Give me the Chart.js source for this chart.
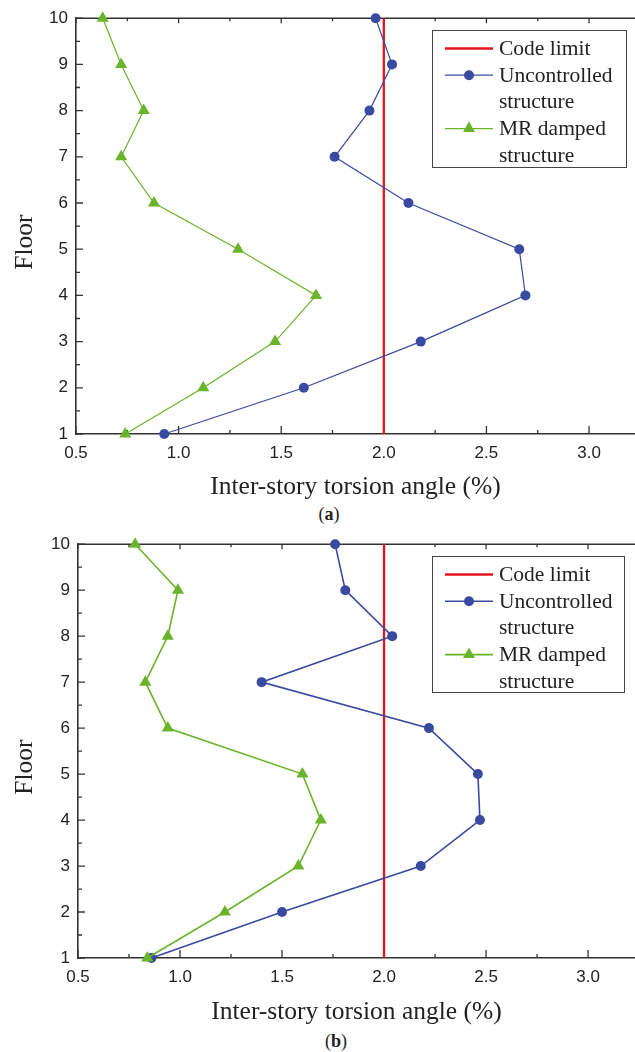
<!DOCTYPE html>
<html>
<head>
<meta charset="utf-8">
<script src="https://cdn.jsdelivr.net/npm/chart.js@4.4.1/dist/chart.umd.min.js"></script>
<style>
  html, body { margin: 0; padding: 0; background: #fff; }
  body { width: 635px; height: 1052px; position: relative; overflow: hidden; }
  .panel { position: absolute; left: 0; }
  .caption {
    position: absolute; width: 40px; text-align: center;
    font-family: "Liberation Serif", "Times New Roman", serif;
    font-size: 18px; color: #222;
  }
</style>
</head>
<body>
<div class="panel" style="top:0"><canvas id="chartA" width="635" height="503"></canvas></div>
<div class="caption" style="left:309px;top:504px">(<b>a</b>)</div>
<div class="panel" style="top:526px"><canvas id="chartB" width="635" height="502"></canvas></div>
<div class="caption" style="left:316px;top:1031px">(<b>b</b>)</div>

<script>
// Inter-story torsion angle (%) per floor
const floors = [1, 2, 3, 4, 5, 6, 7, 8, 9, 10];
const uncontrolledA = [0.93, 1.61, 2.18, 2.69, 2.66, 2.12, 1.76, 1.93, 2.04, 1.96];
const dampedA       = [0.74, 1.12, 1.47, 1.67, 1.29, 0.88, 0.72, 0.83, 0.72, 0.63];
const uncontrolledB = [0.86, 1.50, 2.18, 2.47, 2.46, 2.22, 1.40, 2.04, 1.81, 1.76];
const dampedB       = [0.84, 1.22, 1.58, 1.69, 1.60, 0.94, 0.83, 0.94, 0.99, 0.78];
const codeLimit = 2.0;
const xTickValues = [0.5, 1.0, 1.5, 2.0, 2.5, 3.0];

const SANS = '"Liberation Sans", Arial, sans-serif';
const SERIF = '"Liberation Serif", "Times New Roman", serif';
const AXIS = '#333';
const TEXT = '#222';
const RED = '#e5141c';
const BLUE = '#3a4aa0';
const GREEN = '#6ab42c';

function marker(ctx, style, r, x, y, color) {
    ctx.fillStyle = color;
    ctx.beginPath();
    if (style === 'triangle') {
        ctx.moveTo(x, y - r);
        ctx.lineTo(x + Math.sin(2 * Math.PI / 3) * r, y - Math.cos(2 * Math.PI / 3) * r);
        ctx.lineTo(x + Math.sin(4 * Math.PI / 3) * r, y - Math.cos(4 * Math.PI / 3) * r);
        ctx.closePath();
    } else {
        ctx.arc(x, y, r, 0, Math.PI * 2);
    }
    ctx.fill();
}

// closed top edge plus inward tick marks (Origin style)
const frameTicks = {
    id: 'frameTicks',
    beforeDatasetsDraw(chart) {
        const { ctx, chartArea: a, scales: { x, y } } = chart;
        ctx.save();
        ctx.strokeStyle = AXIS;
        ctx.lineWidth = 1.6;
        ctx.beginPath();
        ctx.moveTo(a.left, a.top);
        ctx.lineTo(a.right, a.top);
        ctx.stroke();

        ctx.lineWidth = 1.3;
        ctx.beginPath();
        xTickValues.forEach(v => {
            [[v, 8, 5], [v + 0.25, 4, 3]].forEach(([val, lenB, lenT]) => {
                const px = x.getPixelForValue(val);
                if (px > a.right) return;
                ctx.moveTo(px, a.bottom); ctx.lineTo(px, a.bottom - lenB);
                ctx.moveTo(px, a.top); ctx.lineTo(px, a.top + lenT);
            });
        });
        floors.forEach(f => {
            const py = y.getPixelForValue(f);
            ctx.moveTo(a.left, py); ctx.lineTo(a.left + 7, py);
            if (f < 10) {
                const pm = y.getPixelForValue(f + 0.5);
                ctx.moveTo(a.left, pm); ctx.lineTo(a.left + 4, pm);
            }
        });
        ctx.stroke();

        // rotated y title, sitting a little below the middle of the axis
        const t = chart.options.plugins.frameTicks;
        ctx.font = '25.5px ' + SERIF;
        ctx.fillStyle = TEXT;
        ctx.textAlign = 'center';
        ctx.textBaseline = 'alphabetic';
        ctx.translate(t.titleX, (y.top + y.bottom) / 2 + t.titleShift);
        ctx.rotate(-Math.PI / 2);
        ctx.fillText(t.yTitle, 0, 0);
        ctx.restore();
    }
};

// boxed legend with wrapped labels
const boxLegend = {
    id: 'boxLegend',
    afterDraw(chart, args, opts) {
        const { ctx } = chart;
        const b = opts.box;
        ctx.save();
        ctx.strokeStyle = '#444';
        ctx.lineWidth = 1;
        ctx.strokeRect(b.left + 0.5, b.top + 0.5, b.width, b.height);
        ctx.font = '21.5px ' + SERIF;
        ctx.textBaseline = 'alphabetic';
        let base = b.top + 25;
        chart.data.datasets.forEach(ds => {
            const cy = base - 6.5;
            ctx.strokeStyle = ds.borderColor;
            ctx.lineWidth = ds.borderWidth;
            ctx.beginPath();
            ctx.moveTo(b.left + 13, cy);
            ctx.lineTo(b.left + 61, cy);
            ctx.stroke();
            if (ds.pointRadius > 0) {
                marker(ctx, ds.pointStyle, ds.pointRadius, b.left + 37, cy, ds.pointBackgroundColor);
            }
            ctx.fillStyle = TEXT;
            ds.label.split('\n').forEach(line => {
                ctx.fillText(line, b.left + 67, base);
                base += 26.7;
            });
        });
        ctx.restore();
    }
};

function pairs(values) {
    return floors.map((f, i) => ({ x: values[i], y: f }));
}

function makeChart(id, uncontrolled, damped, o) {
    new Chart(document.getElementById(id), {
        type: 'scatter',
        data: {
            datasets: [
                {
                    label: 'Code limit',
                    data: [{ x: codeLimit, y: 1 }, { x: codeLimit, y: 10 }],
                    showLine: true, borderColor: RED, borderWidth: 2.3,
                    pointRadius: 0, order: 3, clip: false
                },
                {
                    label: 'Uncontrolled\nstructure',
                    data: pairs(uncontrolled),
                    showLine: true, borderColor: BLUE, borderWidth: o.lineWidth,
                    pointStyle: 'circle', pointRadius: 5, pointBorderWidth: 0,
                    pointBackgroundColor: BLUE, order: 2, clip: false
                },
                {
                    label: 'MR damped\nstructure',
                    data: pairs(damped),
                    showLine: true, borderColor: GREEN, borderWidth: o.lineWidth,
                    pointStyle: 'triangle', pointRadius: 7, pointBorderWidth: 0,
                    pointBackgroundColor: GREEN, order: 1, clip: false
                }
            ]
        },
        options: {
            responsive: false,
            animation: false,
            layout: { autoPadding: false, padding: { top: 16, left: 0, right: 0, bottom: 0 } },
            scales: {
                x: {
                    type: 'linear', min: 0.5, max: o.xMax,
                    grid: { display: false, drawTicks: false },
                    border: { display: true, color: AXIS, width: 1.6 },
                    afterBuildTicks: s => { s.ticks = xTickValues.map(v => ({ value: v })); },
                    afterFit: s => {
                        s.height = o.xAxisHeight;
                        s.paddingLeft = 0;
                        s.paddingRight = 0;
                    },
                    ticks: {
                        padding: 9, color: TEXT, font: { family: SANS, size: 17 },
                        maxRotation: 0, autoSkip: false,
                        callback: v => v.toFixed(1)
                    },
                    title: {
                        display: true, text: 'Inter-story torsion angle (%)', color: TEXT,
                        font: { family: SERIF, size: 25.5 }, padding: { top: 0, bottom: 0 }
                    }
                },
                y: {
                    type: 'linear', min: 1, max: 10,
                    grid: { display: false, drawTicks: false },
                    border: { display: true, color: AXIS, width: 1.6 },
                    afterBuildTicks: s => { s.ticks = floors.map(v => ({ value: v })); },
                    afterFit: s => { s.width = o.yAxisWidth; },
                    ticks: { padding: 8, color: TEXT, font: { family: SANS, size: 17 } }
                }
            },
            plugins: {
                legend: { display: false },
                tooltip: { enabled: false },
                frameTicks: { yTitle: 'Floor', titleX: 32, titleShift: 16 },
                boxLegend: { box: o.legend }
            }
        },
        plugins: [frameTicks, boxLegend]
    });
}

makeChart('chartA', uncontrolledA, dampedA, {
    xMax: 3.224, xAxisHeight: 69, yAxisWidth: 76, lineWidth: 1.2,
    legend: { left: 432, top: 30, width: 194, height: 137 }
});
makeChart('chartB', uncontrolledB, dampedB, {
    xMax: 3.23, xAxisHeight: 70, yAxisWidth: 78, lineWidth: 1.6,
    legend: { left: 432, top: 30, width: 192, height: 136 }
});
</script>
</body>
</html>
